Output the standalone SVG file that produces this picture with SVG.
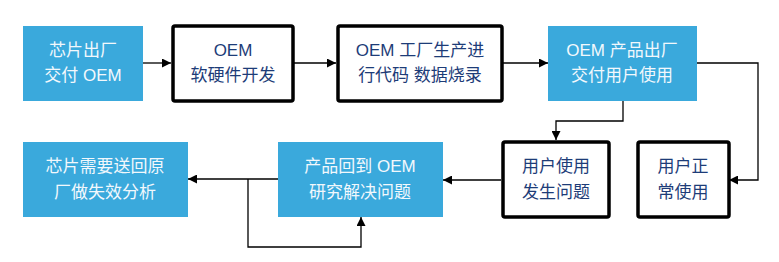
<svg xmlns="http://www.w3.org/2000/svg" width="779" height="262" viewBox="0 0 779 262">
<style>
.blue{fill:#3aa9dc;stroke:none}
.white{fill:#fff;stroke:#000;stroke-width:3.5}
text{font-family:"Liberation Sans","Noto Sans CJK SC",sans-serif;font-size:17px;text-anchor:middle;dominant-baseline:central}
.wt{fill:#f2f8fc}
.dt{fill:#1d3c78}
.c{fill:none;stroke:#000;stroke-width:1.3}
</style>
<defs>
<marker id="ah" viewBox="0 0 10 10" refX="10" refY="5" markerWidth="9" markerHeight="9" markerUnits="userSpaceOnUse" orient="auto">
<path d="M0,0 L10,5 L0,10 z" fill="#000"/>
</marker>
</defs>
<g id="n1"><rect class="blue" x="23" y="26" width="120" height="75"/><text class="wt" x="83" y="50">芯片出厂</text><text class="wt" x="83" y="75">交付 OEM</text></g>
<g id="n2"><rect class="white" x="173" y="26" width="120" height="75" rx="2"/><text class="dt" x="233" y="50">OEM</text><text class="dt" x="233" y="75">软硬件开发</text></g>
<g id="n3"><rect class="white" x="338" y="26" width="164" height="75" rx="2"/><text class="dt" x="420" y="50">OEM 工厂生产进</text><text class="dt" x="420" y="75">行代码 数据烧录</text></g>
<g id="n4"><rect class="blue" x="548" y="26" width="149" height="75"/><text class="wt" x="622" y="50">OEM 产品出厂</text><text class="wt" x="622" y="75">交付用户使用</text></g>
<g id="n5"><rect class="white" x="638" y="142" width="91" height="75" rx="2"/><text class="dt" x="683" y="166">用户正</text><text class="dt" x="683" y="192">常使用</text></g>
<g id="n6"><rect class="white" x="503" y="142" width="106" height="75" rx="2"/><text class="dt" x="556" y="166">用户使用</text><text class="dt" x="556" y="192">发生问题</text></g>
<g id="n7"><rect class="blue" x="278" y="142" width="165" height="75"/><text class="wt" x="360" y="166">产品回到 OEM</text><text class="wt" x="360" y="192">研究解决问题</text></g>
<g id="n8"><rect class="blue" x="23" y="142" width="165" height="75"/><text class="wt" x="105" y="166">芯片需要送回原</text><text class="wt" x="105" y="192">厂做失效分析</text></g>
<g id="connectors">
<path class="c" d="M143,63 H171" marker-end="url(#ah)"/>
<path class="c" d="M293,63 H336" marker-end="url(#ah)"/>
<path class="c" d="M502,63 H548" marker-end="url(#ah)"/>
<path class="c" d="M697,63 H758 V180 H729" marker-end="url(#ah)"/>
<path class="c" d="M623,101 V121 H556 V140" marker-end="url(#ah)"/>
<path class="c" d="M501,180 H443" marker-end="url(#ah)"/>
<path class="c" d="M278,179 H188" marker-end="url(#ah)"/>
<path class="c" d="M248,179 V247 H361 V217" marker-end="url(#ah)"/>
</g>
</svg>
